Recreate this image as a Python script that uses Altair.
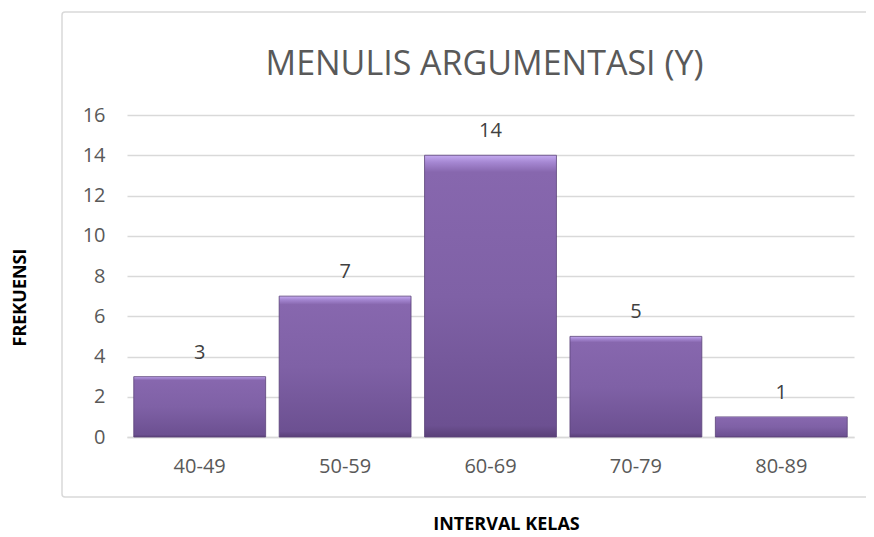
import altair as alt
import pandas as pd

categories = ["40-49", "50-59", "60-69", "70-79", "80-89"]
frekuensi = [3, 7, 14, 5, 1]
y_ticks = [0, 2, 4, 6, 8, 10, 12, 14, 16]

df = pd.DataFrame({"interval": categories, "frekuensi": frekuensi})

FONT = "Open Sans"

frame = alt.Chart(pd.DataFrame({"a": [0]})).mark_rect(
    fill="transparent", stroke="#d9d9d9", strokeWidth=1.5, cornerRadius=3
).encode(
    x=alt.value(-65), x2=alt.value(745), y=alt.value(-103), y2=alt.value(382)
)

grad = alt.Gradient(
    gradient="linear",
    x1=0, x2=0, y1=0, y2=1,
    stops=[
        alt.GradientStop(offset=0.0, color="#c4aaf0"),
        alt.GradientStop(offset=0.025, color="#a587d2"),
        alt.GradientStop(offset=0.06, color="#8767ae"),
        alt.GradientStop(offset=0.5, color="#7f61a6"),
        alt.GradientStop(offset=0.96, color="#6c5091"),
        alt.GradientStop(offset=1.0, color="#5a4078"),
    ],
)

base = alt.Chart(df).encode(
    x=alt.X("interval:N", sort=categories,
            scale=alt.Scale(paddingInner=0.093, paddingOuter=0.0465),
            axis=alt.Axis(title="INTERVAL KELAS", labelAngle=0, labelFont=FONT,
                          labelFontSize=20, labelColor="#595959", labelPadding=19,
                          ticks=False, domain=True, domainColor="#d9d9d9",
                          domainWidth=1.3,
                          titleFont=FONT, titleFontSize=18, titleFontWeight="bold",
                          titleColor="#000000", titleY=78, titleX=379)),
    y=alt.Y("frekuensi:Q", scale=alt.Scale(domain=[0, 16], nice=False),
            axis=alt.Axis(title="FREKUENSI", values=y_ticks, labelFont=FONT,
                          labelFontSize=20, labelColor="#595959", labelPadding=22,
                          ticks=False, domain=False, gridColor="#d9d9d9",
                          gridWidth=1.3,
                          titleFont=FONT, titleFontSize=18, titleFontWeight="bold",
                          titleColor="#000000", titleX=-98, titleY=182)),
)

bars = base.mark_bar(color=grad, stroke="#5b4379", strokeWidth=0.8)

labels = base.mark_text(dy=-18, baseline="alphabetic", font=FONT, fontSize=20,
                        color="#404040").encode(
    text="frekuensi:Q"
)

chart = alt.layer(frame, bars, labels).properties(
    width=727,
    height=322,
    padding={"left": 119, "top": 107, "right": 12, "bottom": 97},
    autosize=alt.AutoSizeParams(type="none"),
    title=alt.TitleParams("MENULIS ARGUMENTASI (Y)", font=FONT, fontSize=34,
                          fontWeight="normal", color="#595959", anchor="middle",
                          baseline="alphabetic", offset=-98, dx=-6),
).configure_view(stroke=None)

chart.save("out.html", embed_options={"renderer": "svg", "actions": False})
